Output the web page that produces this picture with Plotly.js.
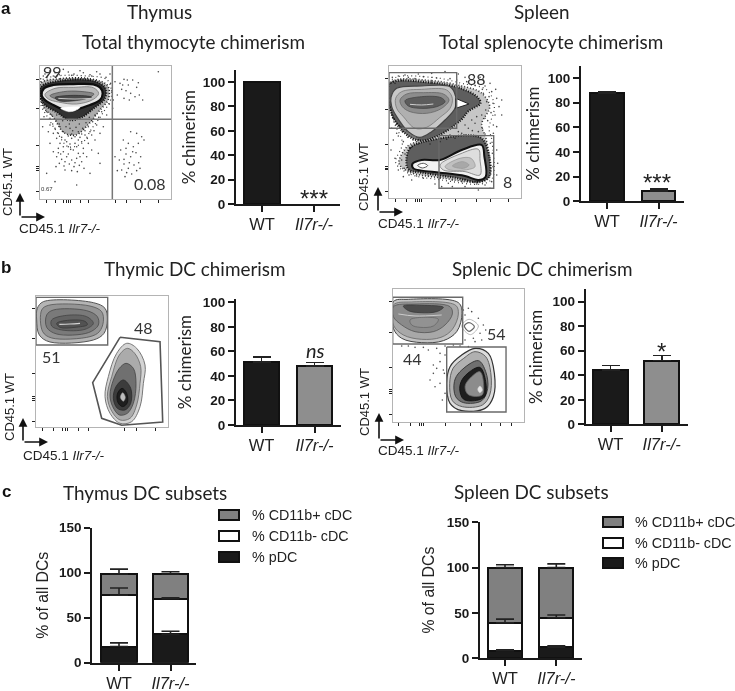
<!DOCTYPE html>
<html><head><meta charset="utf-8">
<script src="https://cdn.plot.ly/plotly-3.0.1.min.js"></script>
<style>html,body{margin:0;padding:0;background:#fff}#c{width:735px;height:691px;filter:blur(0.45px)}</style>
</head><body><div id="c"></div>
<script>
// ---------- bar chart values ----------
const groups = ['WT', '<i>Il7r-/-</i>'];
const thymocyte = [100, 0.08],  thymocyteErr = [0, 0];
const splenocyte = [87.5, 8.5], splenocyteErr = [1.2, 1.5];
const thymicDC = [51.5, 48],   thymicDCErr = [3.8, 2.8];
const splenicDC = [44.5, 52],  splenicDCErr = [3.5, 4];
const thyPDC = [18, 31.5],  thyPDCErr = [4, 3.5];
const thyNeg = [57, 39.5],  thyNegErr = [8, 1];
const thyPos = [23.5, 27.5], thyPosErr = [5.5, 2.5];
const splPDC = [8, 12],     splPDCErr = [1, 1.5];
const splNeg = [31, 32.5],  splNegErr = [4, 3];
const splPos = [61, 55.5],  splPosErr = [3, 4];
const subsetNames = ['% CD11b+ cDC', '% CD11b- cDC', '% pDC'];
const chimerismTicks = [0,20,40,60,80,100];
const subsetTicks = [0,50,100,150];

// ---------- flow cytometry outlines and events, estimated in display channels ----------
const a1Halo1 = [[122,244],[170,228],[260,228],[322,240],[334,290],[308,340],[276,385],[245,430],[205,440],[170,395],[142,350],[122,312]];
const a1Halo2 = [[122,250],[180,236],[270,236],[322,256],[326,295],[296,335],[266,372],[228,405],[192,398],[160,352],[130,320]];
const a1Core  = [[122,262],[180,242],[280,242],[316,264],[314,296],[280,326],[245,352],[208,360],[172,338],[130,310]];
const a1C1 = [[125,285],[132,265],[160,255],[220,252],[280,253],[300,262],[308,280],[300,300],[270,315],[240,325],[212,334],[188,328],[160,315],[135,300]];
const a1C2 = [[135,283],[165,265],[220,262],[280,263],[296,280],[280,298],[230,312],[175,306],[145,297]];
const a1C3 = [[150,287],[190,275],[240,274],[282,282],[250,298],[190,302]];
const a1C4 = [[165,293],[220,286],[275,291],[230,300],[180,303]];
const a1Wedge = [[182,325],[240,322],[225,332],[205,335]];
const a1Streak = [[175,295],[225,297],[275,295]];
const a1Dots = [[345,245],[360,250],[372,238],[385,255],[398,240],[410,262],[365,268],[378,272],[392,280],[405,290],[418,285],[352,285],[340,300],[372,295],[388,300],[475,215],[428,300],[415,248],[368,255],[382,240],
[392,395],[410,400],[425,410],[370,420],[385,430],[400,440],[415,430],[432,420],[362,450],[378,462],[392,470],[408,458],[422,470],[358,480],[372,492],[388,488],[402,495],[416,488],[365,510],[380,518],[395,522],[410,512],[375,530],[352,512],[385,505],[398,455],[378,445],[345,470],[420,505],[372,478],
[175,445],[190,455],[205,440],[220,450],[235,460],[250,445],[170,470],[185,478],[200,470],[215,480],[230,475],[245,485],[260,470],[178,490],[192,498],[208,492],[222,500],[238,496],[252,505],[195,510],[215,512],[232,515],[180,430],[200,425],[225,430],[245,425],[265,430],[275,450],[285,420],[300,400],[310,380],[295,460],[160,400],[150,430],[140,520],[165,545],[230,555],[270,520],[300,490],[290,375],[320,345],[132,350],[128,380],[190,395],[210,385],[235,395],[255,405],[270,395],[180,380],[150,375],[145,395],[170,415],[215,415],[240,412],[262,415],[130,228],[330,222],[150,212],[190,208],[240,212],[290,215],
[155,345],[168,360],[178,372],[188,362],[198,380],[208,372],[218,392],[228,382],[238,372],[248,385],[258,368],[268,352],[278,365],[285,345],[296,352],[305,335],[165,385],[175,400],[185,412],[195,420],[205,408],[215,402],[225,410],[235,420],[245,402],[255,392],[265,380],[275,405],[158,372],[170,345],[150,355],[140,335],[282,392],[210,432],[190,440],[230,440],[175,458],[205,462],[240,470],[195,485],[225,488],[212,448],[182,462],[160,455],[168,500],[250,460],[122,236],[135,222],[165,218],[178,224],[205,216],[222,222],[250,218],[270,224],[300,222],[318,232],[332,250],[335,272],[328,312],[338,325],[160,228],[215,226],[275,228]];

const a2Outer = [[80,240],[200,232],[290,250],[366,270],[388,320],[372,385],[380,418],[382,535],[348,552],[230,540],[135,522],[92,488],[112,430],[82,352]];
const a2Mid = [[78,248],[200,242],[290,258],[348,278],[374,320],[350,372],[364,420],[374,530],[342,546],[230,534],[132,516],[102,490],[126,440],[160,418],[90,362]];
const a2Low = [[124,490],[135,444],[200,420],[345,412],[368,450],[372,530],[345,546],[262,532],[170,518],[132,510]];
const a2High = [[72,252],[200,248],[285,264],[338,292],[346,310],[310,334],[288,360],[222,406],[165,422],[122,402],[78,338]];
const a2C1 = [[78,292],[95,265],[170,258],[255,260],[272,290],[270,325],[240,360],[200,395],[165,412],[130,395],[95,350],[80,320]];
const a2C2 = [[92,295],[110,275],[170,268],[245,270],[262,295],[255,325],[225,352],[185,382],[150,385],[115,350],[95,325]];
const a2C3 = [[105,300],[125,282],[175,278],[235,282],[252,300],[230,325],[185,340],[135,335],[112,320]];
const a2C4 = [[120,302],[170,290],[228,293],[240,305],[215,320],[165,325],[130,318]];
const a2Streak = [[135,313],[170,315],[205,312]];
const a2Wedge = [[272,295],[312,312],[272,325]];
const a2B1 = [[142,492],[170,480],[225,480],[290,450],[350,435],[358,470],[362,530],[340,540],[300,528],[225,518],[170,512],[146,506]];
const a2B2 = [[225,495],[285,462],[340,448],[345,480],[345,525],[300,515],[235,510]];
const a2B3 = [[240,500],[285,475],[318,475],[330,500],[300,510],[255,510]];
const a2B4 = [[262,498],[292,485],[312,495],[295,505]];
const a2Ring = [[158,496],[175,490],[188,497],[172,504]];
const a2Dots = [[300,232],[320,240],[340,250],[360,258],[380,275],[395,295],[402,320],[390,345],[385,375],[375,250],[355,240],[325,225],[280,222],[240,215],[200,220],[160,222],[120,225],[100,228],[82,232],[410,300],[392,268],[345,232],[95,400],[85,420],[78,450],[90,475],[100,510],[115,530],[140,540],[175,535],[210,552],[250,550],[290,545],[395,450],[398,490],[395,525],[375,565],[340,570],[300,560],[262,560],[230,560],[80,385],[105,380],[115,425],[385,400],[395,380],[410,345],[360,355],[330,370],[310,385],[290,400],
[130,232],[150,236],[175,230],[215,234],[255,236],[275,240],[305,245],[330,256],[352,268],[372,290],[384,310],[378,338],[368,362],[352,385],[340,395],[322,392],[300,405],[270,415],[245,418],[225,425],[195,432],[160,432],[140,442],[120,462],[110,480],[118,505],[132,525],[155,528],[190,528],[225,535],[262,540],[300,538],[335,552],[360,555],[380,545],[384,500],[382,460],[376,430],[360,402],[92,375],[86,355],[82,300],[100,408],[112,395],[128,412],[144,420],[350,345],[335,350],[320,360],[300,375],[280,395],[255,405],[90,250],[110,242],[355,280],[365,305],[362,330]];

const b1C = [[[112,205],[130,185],[280,188],[315,205],[322,240],[312,280],[280,300],[150,306],[118,285],[110,240]],
 [[125,210],[145,196],[270,198],[305,215],[310,245],[298,275],[270,290],[155,294],[128,275]],
 [[140,225],[160,210],[260,212],[292,230],[295,255],[265,278],[170,282],[140,262]],
 [[155,240],[200,226],[260,230],[280,250],[255,268],[185,270],[155,258]],
 [[170,250],[215,240],[255,244],[262,254],[225,262],[180,262]]];
const b1Streak = [[178,253],[210,252],[240,250]];
const b1Gate = [[360,292],[480,305],[488,546],[365,556],[305,535],[278,428]];
const b1E = [[[380,310],[410,325],[435,375],[430,430],[420,500],[395,545],[360,550],[330,520],[315,470],[325,410],[350,340]],
 [[382,325],[404,340],[422,380],[420,430],[410,495],[390,535],[360,540],[336,515],[322,470],[335,410],[358,345]],
 [[378,370],[400,385],[408,430],[400,490],[382,520],[358,525],[338,500],[330,465],[340,420],[358,385]],
 [[370,420],[392,445],[392,490],[375,510],[352,505],[340,475],[348,440]],
 [[366,445],[380,460],[382,488],[368,500],[354,488],[352,462]]];
const b1Spot = [[368,458],[376,472],[370,484],[361,472]];

const b2C = [[[85,185],[130,178],[280,188],[291,220],[275,275],[235,302],[170,308],[110,295],[85,265]],
 [[85,195],[140,186],[272,196],[280,222],[262,268],[228,292],[170,298],[115,285],[85,255]],
 [[85,200],[150,192],[255,200],[262,222],[240,255],[205,275],[150,275],[110,255],[85,230]],
 [[115,198],[170,196],[235,202],[215,215],[165,218],[130,212]],
 [[135,240],[175,232],[220,238],[205,258],[165,262],[140,255]]];
const b2Streak = [[100,222],[150,228],[230,225]];
const b2Ring = [[298,258],[312,248],[328,260],[312,274]];
const b2Ring2 = [[290,258],[312,238],[340,258],[316,284]];
const b2E = [[[330,325],[370,340],[388,400],[385,470],[360,505],[290,512],[255,490],[245,430],[255,380],[290,345]],
 [[330,335],[362,350],[378,405],[374,465],[352,495],[292,500],[262,482],[254,430],[264,385],[296,355]],
 [[340,362],[362,395],[368,445],[350,482],[296,488],[272,470],[268,425],[285,395]],
 [[344,382],[362,425],[360,468],[340,480],[296,478],[284,445],[296,412]],
 [[345,395],[356,440],[350,466],[310,464],[300,440],[312,418]]];
const b2Spot = [[345,438],[352,450],[344,458],[338,448]];
const b2Dots = [[300,225],[320,215],[340,235],[355,255],[345,280],[325,295],[300,300],[310,320],[330,305],[350,300],[362,270],[310,205],[295,210],[240,318],[215,325],[190,330],[175,322],[150,322],[240,345],[225,365],[215,385],[205,400],[235,390],[195,420],[210,440],[225,430],[240,460],[232,480],[238,400],[205,375],[265,315],[285,318],[130,318],[110,318],[225,340]];

// ---------- axis decorations ----------
const a1TicksX = [140,165,190,200,206,212,240,265,345,380,420,475];
const a1TicksY = [237,325,435,500,505,510,575];
const a2TicksX = [92,125,150,158,164,170,230,270,335,375,430];
const a2TicksY = [235,328,435,500,505,510,575];
const b1TicksX = [128,160,188,195,201,235,265,372,410,465];
const b1TicksY = [205,295,402,470,476,482,545];
const b2TicksX = [100,135,162,170,176,240,315,350,405,440];
const b2TicksY = [185,278,382,448,454,460,522];

// ---------- layout helpers ----------
const W = 735, H = 691;
const px = v => v / W, py = v => 1 - v / H;
const traces = [], shapes = [], annotations = [];
const layout = {width:W, height:H, margin:{l:0,r:0,t:0,b:0}, paper_bgcolor:'#fff', plot_bgcolor:'rgba(0,0,0,0)',
  showlegend:false, hovermode:false, barmode:'stack', shapes, annotations, font:{family:'Liberation Sans', color:'#222'}};
const SANS = 'Liberation Sans', CAL = 'Lato';

function note(x, y, text, size, opt){
  annotations.push(Object.assign({xref:'paper', yref:'paper', x:px(x), y:py(y), text, showarrow:false,
    font:{family:SANS, size, color:'#222'}, xanchor:'center', yanchor:'middle'}, opt||{}));
}
function flowAxes(n, left, right, top, bottom, rx, ry, tx, ty){
  layout['xaxis'+n] = {domain:[px(left),px(right)], range:rx, anchor:'y'+n, showgrid:false, zeroline:false, showticklabels:false,
    ticks:'outside', ticklen:3, tickwidth:1, tickcolor:'#222', tickmode:'array', tickvals:tx, showline:true, linecolor:'#b4b4b4', linewidth:1, mirror:true};
  layout['yaxis'+n] = {domain:[py(bottom),py(top)], range:ry, anchor:'x'+n, showgrid:false, zeroline:false, showticklabels:false,
    ticks:'outside', ticklen:3, tickwidth:1, tickcolor:'#222', tickmode:'array', tickvals:ty, showline:true, linecolor:'#b4b4b4', linewidth:1, mirror:true};
}
function closed(n, pts, fill, line, w, dash, spline){
  const p = pts.concat([pts[0]]);
  traces.push({type:'scatter', mode:'lines', xaxis:'x'+n, yaxis:'y'+n, x:p.map(a=>a[0]), y:p.map(a=>a[1]),
    fill: fill ? 'toself' : 'none', fillcolor: fill || undefined,
    line:{color:line, width:w, dash:dash||'solid', shape: spline===false ? 'linear' : 'spline', smoothing:1}, hoverinfo:'skip'});
}
function open(n, pts, color, w){
  traces.push({type:'scatter', mode:'lines', xaxis:'x'+n, yaxis:'y'+n, x:pts.map(a=>a[0]), y:pts.map(a=>a[1]),
    line:{color, width:w, shape:'spline'}, hoverinfo:'skip'});
}
function dots(n, pts){
  traces.push({type:'scatter', mode:'markers', xaxis:'x'+n, yaxis:'y'+n, x:pts.map(a=>a[0]), y:pts.map(a=>a[1]),
    marker:{size:1.6, color:'#4a4a4a'}, hoverinfo:'skip'});
}
function gateRect(n, x0, x1, y0, y1){
  closed(n, [[x0,y0],[x1,y0],[x1,y1],[x0,y1]], null, '#6a6a6a', 1.4, 'solid', false);
}
function barAxes(n, axisX, endX, x0, step, y0, yRef, refVal, topY, tickvals, title, titleSize, titleFont, standoff){
  const scale = (y0 - yRef) / refVal;
  layout['xaxis'+n] = {domain:[px(axisX),px(endX)], range:[(axisX-x0)/step,(endX-x0)/step], anchor:'y'+n, tickmode:'array', tickvals:[0,1], ticktext:groups,
    showgrid:false, zeroline:false, showline:true, linecolor:'#1a1a1a', linewidth:2, ticks:'outside', ticklen:6, tickwidth:2, tickcolor:'#1a1a1a',
    tickfont:{family:SANS, size:16.5, color:'#222'}, ticklabelstandoff:-2};
  layout['yaxis'+n] = {domain:[py(y0),py(topY)], range:[0,(y0-topY)/scale], anchor:'x'+n, tickmode:'array', tickvals, ticktext:tickvals.map(v=>'<b>'+v+'</b>'),
    showgrid:false, zeroline:false, showline:true, linecolor:'#1a1a1a', linewidth:2, ticks:'outside', ticklen:6, tickwidth:2, tickcolor:'#1a1a1a',
    tickfont:{family:SANS, size:13.5, color:'#1a1a1a'},
    title:{text:title, font:{family:titleFont, size:titleSize, color:'#222'}, standoff}};
}
function bars(n, vals, errs, colors, name, width, lineWidths){
  traces.push({type:'bar', name, xaxis:'x'+n, yaxis:'y'+n, x:[0,1], y:vals, width:width,
    marker:{color:colors, line:{color:'#111', width:lineWidths||2}},
    error_y:{type:'data', array:errs, arrayminus:[0,0], symmetric:false, color:'#222', thickness:1.6, width:9, visible:errs.some(v=>v>0)}, hoverinfo:'skip'});
}
// stacked segment: the whisker sits on a top layer so a later segment does not cover it
const whiskerLayer = [];
function stacked(n, vals, errs, below, color, name, width){
  traces.push({type:'bar', name, xaxis:'x'+n, yaxis:'y'+n, x:[0,1], y:vals, width,
    marker:{color:[color,color], line:{color:'#111', width:2}}, hoverinfo:'skip'});
  whiskerLayer.push({type:'scatter', mode:'markers', xaxis:'x'+n, yaxis:'y'+n, x:[0,1], y:vals.map((v,i)=>v+below[i]),
    marker:{size:1, opacity:0}, error_y:{type:'data', array:errs, arrayminus:[0,0], symmetric:false, color:'#222', thickness:1.6, width:9}, hoverinfo:'skip'});
}

// ---------- panel a, thymus flow ----------
flowAxes(1, 40, 171, 65.7, 199, [120,513], [597,197], a1TicksX, a1TicksY);
dots(1, a1Dots);
closed(1, a1Halo1, null, '#333', 1.2, '1px,3px');
closed(1, a1Halo2, 'rgba(40,40,40,0.38)', '#222', 1.6, '1px,2px');
closed(1, a1Core, 'rgba(15,15,15,0.78)', '#111', 2.2, '1px,1.5px');
closed(1, a1C1, '#e4e4e4', '#0e0e0e', 2.2);
closed(1, a1C2, '#b8b8b8', '#777', 0.8);
closed(1, a1C3, '#858585', '#555', 0.8);
closed(1, a1C4, '#4a4a4a', '#333', 0.8);
closed(1, a1Wedge, '#fff', '#fff', 0.5);
open(1, a1Streak, '#c8c8c8', 1);
open(1, [[120,358],[513,358]], '#777', 1.5);
open(1, [[337,197],[337,597]], '#777', 1.5);

// ---------- panel a, spleen flow ----------
flowAxes(2, 389, 520.7, 66, 198.3, [72,467], [595,198], a2TicksX, a2TicksY);
dots(2, a2Dots);
closed(2, a2Outer, null, '#444', 1.2, '1px,3px');
closed(2, a2Mid, 'rgba(50,50,50,0.28)', '#333', 1.6, '1px,2px');
closed(2, a2Low, 'rgba(25,25,25,0.6)', '#111', 2.2, '1px,1.5px');
closed(2, a2High, 'rgba(25,25,25,0.6)', '#111', 2.2, '1px,1.5px');
closed(2, a2C1, '#c8c8c8', '#444', 1.2);
closed(2, a2C2, '#b0b0b0', '#777', 0.8);
closed(2, a2C3, '#8c8c8c', '#666', 0.8);
closed(2, a2C4, '#5c5c5c', '#444', 0.8);
open(2, a2Streak, '#cfcfcf', 1);
closed(2, a2Wedge, '#fff', '#222', 1, 'solid', false);
closed(2, a2B1, '#f2f2f2', '#111', 2);
closed(2, a2B2, '#dedede', '#777', 0.8);
closed(2, a2B3, '#c0c0c0', '#999', 0.8);
closed(2, a2B4, '#a8a8a8', '#999', 0.8);
closed(2, a2Ring, '#fff', '#555', 1);
gateRect(2, 72, 275, 218, 385);
gateRect(2, 222, 386, 407, 565);

// ---------- panel b, thymic DC flow ----------
flowAxes(3, 36, 167.7, 296, 427.3, [108,503], [562,168], b1TicksX, b1TicksY);
[['#b4b4b4','#555',1],['#949494','#555',0.8],['#7a7a7a','#4a4a4a',0.8],['#636363','#444',0.8],['#525252','#3a3a3a',0.8]].forEach((s,i)=>closed(3,b1C[i],s[0],s[1],s[2]));
open(3, b1Streak, '#d4d4d4', 1.2);
[['#d4d4d4','#777',1],['#ababab','#666',0.8],['#707070','#444',0.8],['#3c3c3c','#2a2a2a',0.8],['#1e1e1e','#111',0.8]].forEach((s,i)=>closed(3,b1E[i],s[0],s[1],s[2]));
closed(3, b1Spot, '#bdbdbd', '#999', 0.5);
gateRect(3, 108, 323, 172, 315);
closed(3, b1Gate, null, '#555', 1.6, 'solid', false);

// ---------- panel b, splenic DC flow ----------
flowAxes(4, 392.7, 523.7, 289.3, 421.7, [83,476], [545,148], b2TicksX, b2TicksY);
dots(4, b2Dots);
[['#c4c4c4','#444',1],['#a8a8a8','#666',0.8],['#8a8a8a','#555',0.8],['#4c4c4c','#3a3a3a',0.8],['#929292','#666',0.8]].forEach((s,i)=>closed(4,b2C[i],s[0],s[1],s[2]));
open(4, b2Streak, '#cccccc', 1);
closed(4, b2Ring2, null, '#aaa', 0.8);
closed(4, b2Ring, '#fff', '#666', 1.2);
[['#dcdcdc','#333',1.2],['#b0b0b0','#555',0.9],['#707070','#333',0.9],['#1e1e1e','#111',0.9],['#8c8c8c','#666',0.8]].forEach((s,i)=>closed(4,b2E[i],s[0],s[1],s[2]));
closed(4, b2Spot, '#e4e4e4', '#ccc', 0.5);
gateRect(4, 83, 293, 172, 312);
gateRect(4, 245, 423, 321, 516);

// ---------- bar panels ----------
const pair = ['#1a1a1a', '#8e8e8e'];
barAxes(5, 236, 340, 262, 52, 204, 82, 100, 70, chimerismTicks, '% chimerism', 17, CAL, 3);
bars(5, thymocyte, thymocyteErr, ['#1a1a1a','#1a1a1a'], 'chimerism', 0.69, [2,0]);
barAxes(6, 581, 684, 607, 51.5, 201.3, 78, 100, 66, chimerismTicks, '% chimerism', 17, CAL, 4);
bars(6, splenocyte, splenocyteErr, pair, 'chimerism', 0.66);
barAxes(7, 236, 341, 261.5, 53, 425, 302.3, 100, 299, chimerismTicks, '% chimerism', 17, CAL, 7);
bars(7, thymicDC, thymicDCErr, pair, 'chimerism', 0.66);
barAxes(8, 585.7, 687.7, 610.5, 51.2, 424.3, 301.7, 100, 289.3, chimerismTicks, '% chimerism', 17, CAL, 6);
bars(8, splenicDC, splenicDCErr, pair, 'chimerism', 0.68);
barAxes(9, 92.3, 196, 119, 51.5, 662.7, 527.7, 150, 527.7, subsetTicks, '% of all DCs', 15.8, SANS, 7);
stacked(9, thyPDC, thyPDCErr, [0,0], '#1a1a1a', subsetNames[2], 0.68);
stacked(9, thyNeg, thyNegErr, thyPDC, '#fff', subsetNames[1], 0.68);
stacked(9, thyPos, thyPosErr, thyPDC.map((v,i)=>v+thyNeg[i]), '#808080', subsetNames[0], 0.68);
barAxes(10, 480, 582, 505, 51.3, 658, 522.3, 150, 522.3, subsetTicks, '% of all DCs', 15.8, SANS, 8);
stacked(10, splPDC, splPDCErr, [0,0], '#1a1a1a', subsetNames[2], 0.67);
stacked(10, splNeg, splNegErr, splPDC, '#fff', subsetNames[1], 0.67);
stacked(10, splPos, splPosErr, splPDC.map((v,i)=>v+splNeg[i]), '#808080', subsetNames[0], 0.67);
whiskerLayer.forEach(t=>traces.push(t));

// ---------- headings and labels ----------
note(6, 9, 'a', 17, {font:{family:SANS,size:17,color:'#111',weight:700}});
note(6, 267, 'b', 17, {font:{family:SANS,size:17,color:'#111',weight:700}});
note(6, 491, 'c', 17, {font:{family:SANS,size:17,color:'#111',weight:700}});
const head = {font:{family:CAL,size:18.9,color:'#222'}};
note(159, 11, 'Thymus', 18.9, head);
note(193, 41, 'Total thymocyte chimerism', 18.9, head);
note(541.7, 11, 'Spleen', 18.9, head);
note(551, 41, 'Total splenocyte chimerism', 18.9, head);
note(195, 268, 'Thymic DC chimerism', 18.9, head);
note(542, 268, 'Splenic DC chimerism', 18.9, head);
note(145, 492.5, 'Thymus DC subsets', 18.9, head);
note(531, 492, 'Spleen DC subsets', 18.9, head);

const flowLab = {font:{family:CAL,size:16,color:'#333'}};
note(52.5, 72, '99', 16, flowLab); note(150, 184, '0.08', 16, flowLab);
note(47, 189, '0.67', 6, {font:{family:SANS,size:6,color:'#333'}});
note(476, 78, '88', 16, flowLab); note(507, 181, '8', 16, flowLab);
note(143.5, 327, '48', 16, flowLab); note(51.5, 356, '51', 16, flowLab);
note(496.5, 333, '54', 16, flowLab); note(412, 358, '44', 16, flowLab);

const stars = {font:{family:SANS,size:24,color:'#222'}};
note(314, 199, '***', 24, stars); note(657, 182, '***', 24, stars);
note(315.7, 350, '<i>ns</i>', 20, {font:{family:CAL,size:20,color:'#222'}});
note(661.7, 351, '*', 24, stars);

function vertical(x, y, s){ note(x, y, 'CD45.1 WT', s||13, {textangle:-90}); }
function horizontal(x, y){ note(x, y, 'CD45.1 <i>Ilr7-/-</i>', 13.5, {xanchor:'left'}); }
vertical(7, 182); vertical(363, 177); vertical(10, 407); vertical(365, 402);
horizontal(17, 229); horizontal(376, 224); horizontal(21, 455); horizontal(376, 450);
function arrow(x0, y0, x1, y1){
  annotations.push({xref:'paper', yref:'paper', axref:'pixel', ayref:'pixel', x:px(x1), y:py(y1), ax:x0-x1, ay:y0-y1,
    text:'', showarrow:true, arrowhead:2, arrowsize:1.1, arrowwidth:1.6, arrowcolor:'#111'});
}
[[20,217,193,45],[378,212,187,403],[23,442,418,48],[379,440,413,404]].forEach(e=>{
  arrow(e[0], e[1], e[0], e[2]); arrow(e[0], e[1], e[3], e[1]);
});

function legendBlock(sx, tx, ys){
  const fills = ['#808080','#fff','#1a1a1a'];
  ys.forEach((y,i)=>{
    shapes.push({type:'rect', xref:'paper', yref:'paper', x0:px(sx), x1:px(sx+20), y0:py(y+5), y1:py(y-5), fillcolor:fills[i], line:{color:'#111', width:2}});
    note(tx, y, subsetNames[i], 14.3, {xanchor:'left'});
  });
}
legendBlock(219, 250, [515, 536, 557]);
legendBlock(603, 633, [522, 543, 563]);

Plotly.newPlot('c', traces, layout, {staticPlot:true, displayModeBar:false});
</script></body></html>
